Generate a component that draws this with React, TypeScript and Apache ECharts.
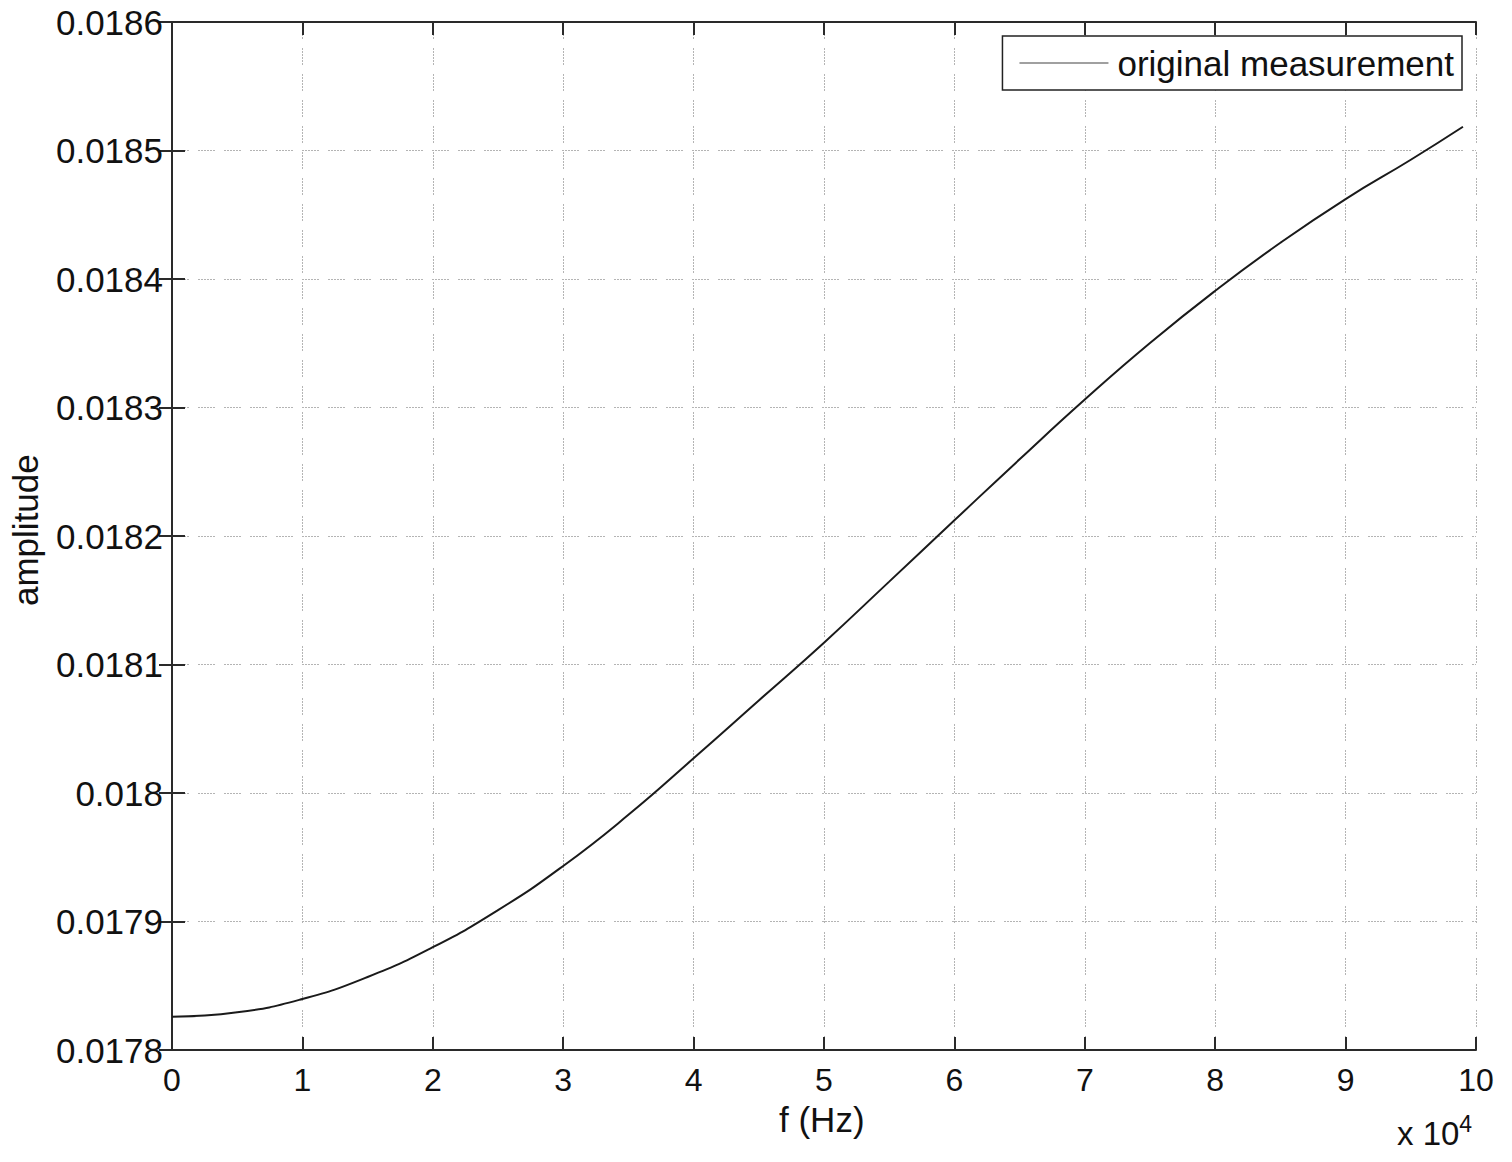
import React, { useEffect, useRef } from "react";
import * as echarts from "echarts";

const freqHz = [0, 5000, 10000, 15000, 20000, 25000, 30000, 35000, 40000, 45000, 50000, 55000, 60000, 65000, 70000, 75000, 80000, 85000, 90000, 95000, 99000];
const amplitude = [0.0178259, 0.0178293, 0.0178397, 0.0178568, 0.01788, 0.0179088, 0.0179432, 0.017983, 0.018027, 0.018072, 0.018117, 0.0181645, 0.0182122, 0.0182597, 0.0183062, 0.0183502, 0.0183908, 0.0184282, 0.0184622, 0.0184928, 0.0185185];
const seriesName = "original measurement";
const xTitle = "f (Hz)";
const yTitle = "amplitude";

const FONT = "'Liberation Sans', Arial, Helvetica, sans-serif";

export default function App() {
  const ref = useRef<HTMLDivElement>(null);
  useEffect(() => {
    if (!ref.current) return;
    const chart = echarts.init(ref.current, null, { renderer: "svg" });
    const axisLine = () => ({ show: true, lineStyle: { color: "#2a2a2a", width: 2 } });
    const tick = () => ({ show: true, inside: true, length: 13, lineStyle: { color: "#2a2a2a", width: 2 } });
    const split = () => ({
      show: true,
      lineStyle: { color: "#b4b4b4", width: 1, type: [2, 1, 2, 1, 2, 1, 2, 1, 2, 1, 2, 9] as any },
    });
    chart.setOption({
      animation: false,
      backgroundColor: "#fff",
      grid: { left: 172, top: 22, right: 36, bottom: 112, containLabel: false },
      legend: {
        show: true,
        data: [{ name: seriesName, icon: "rect", itemStyle: { color: "#a0a0a0" } }],
        right: 50,
        top: 36,
        orient: "vertical",
        itemWidth: 89,
        itemHeight: 2,
        itemGap: 0,
        padding: [8, 8, 8, 17],
        borderColor: "#222",
        borderWidth: 1.5,
        backgroundColor: "#fff",
        textStyle: { fontFamily: FONT, fontSize: 35, color: "#111", lineHeight: 38, padding: [0, 0, 0, 4] },
      },
      xAxis: [
        {
          type: "value", min: 0, max: 100000, interval: 10000,
          position: "bottom",
          axisLine: axisLine(),
          axisTick: tick(),
          splitLine: split(),
          axisLabel: {
            margin: 14,
            fontFamily: FONT,
            fontSize: 32,
            color: "#111",
            formatter: (v: number) => String(Math.round(v / 1000) / 10),
          },
        },
        {
          type: "value", min: 0, max: 100000, interval: 10000,
          position: "top",
          axisLine: axisLine(),
          axisTick: tick(),
          splitLine: { show: false },
          axisLabel: { show: false },
        },
      ],
      yAxis: [
        {
          type: "value", min: 0.0178, max: 0.0186, interval: 0.0001,
          position: "left",
          axisLine: axisLine(),
          axisTick: tick(),
          splitLine: split(),
          axisLabel: {
            margin: 9,
            fontFamily: FONT,
            fontSize: 35,
            color: "#111",
            formatter: (v: number) => String(parseFloat(v.toFixed(4))),
          },
        },
        {
          type: "value", min: 0.0178, max: 0.0186, interval: 0.0001,
          position: "right",
          axisLine: axisLine(),
          axisTick: tick(),
          splitLine: { show: false },
          axisLabel: { show: false },
        },
      ],
      series: [
        {
          name: seriesName,
          type: "line",
          xAxisIndex: 0,
          yAxisIndex: 0,
          data: freqHz.map((f, i) => [f, amplitude[i]]),
          smooth: 0.5,
          showSymbol: false,
          symbol: "none",
          lineStyle: { color: "#1a1a1a", width: 2 },
          itemStyle: { color: "#1a1a1a" },
        },
      ],
      graphic: [
        {
          type: "text",
          left: 779,
          top: 1102,
          style: { text: xTitle, fontFamily: FONT, fontSize: 35, fill: "#111" },
        },
        {
          type: "text",
          x: 8,
          y: 606,
          rotation: Math.PI / 2,
          style: { text: yTitle, fontFamily: FONT, fontSize: 35, fill: "#111", align: "left", verticalAlign: "top" },
        },
        {
          type: "text",
          left: 1397,
          top: 1112,
          style: {
            text: "x 10{sup|4}",
            fontFamily: FONT,
            fontSize: 33,
            fill: "#111",
            rich: { sup: { fontFamily: FONT, fontSize: 23, fill: "#111", verticalAlign: "top", padding: [0, 0, 20, 0] } },
          },
        },
      ],
    });
    return () => chart.dispose();
  }, []);
  return <div ref={ref} style={{ position: "absolute", left: 0, top: 0, width: 1512, height: 1162 }} />;
}
